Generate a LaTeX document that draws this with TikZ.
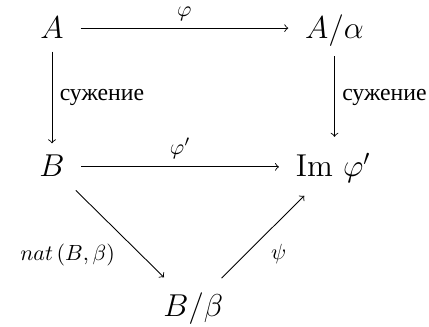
\documentclass[tikz,border=0pt]{standalone}
\usepackage{fontspec}
\newfontfamily\cyrfont[Scale=1.08]{Liberation Serif}
\usetikzlibrary{positioning}

\begin{document}
\begin{tikzpicture}[
    obj/.style={font=\Large, anchor=base, text height=11.5pt, text depth=2.5pt,
                inner xsep=7.5pt, inner ysep=3.5pt},
    arrow/.style={->, line width=0.4pt},
    diag/.style={->, line width=0.4pt, shorten >=3.5pt},
    lbl/.style={font=\normalsize},
    cyrlbl/.style={font=\cyrfont\normalsize},
]
\useasboundingbox (-0.832,0.608) rectangle (6.032,-4.608);
\node[obj] (n_A) at (0,0) {$A$};
\node[obj] (n_Aq) at (4.52,0) {$A/\alpha$};
\node[obj] (n_B) at (0,-2.22) {$B$};
\node[obj] (n_Im) at (4.5,-2.22) {$\mathrm{Im}\ \varphi'$};
\node[obj] (n_Bq) at (2.26,-4.45) {$B/\beta$};
\draw[arrow] (n_A) -- node[above, lbl] {$\varphi$} (n_Aq);
\draw[arrow] (n_A) -- node[right, cyrlbl] {сужение} (n_B);
\draw[arrow, shorten <=2pt, shorten >=3pt] (n_Aq) -- node[right, cyrlbl] {сужение} (n_Aq |- n_Im.north);
\draw[arrow] (n_B) -- node[above, lbl] {$\varphi'$} (n_Im);
\draw[diag] (n_B) -- node[below left, lbl] {$nat\,(B,\beta)$} (n_Bq);
\draw[diag, shorten <=3pt] (n_Bq) -- node[below right, lbl] {$\psi$} (n_Im);
\end{tikzpicture}
\end{document}
